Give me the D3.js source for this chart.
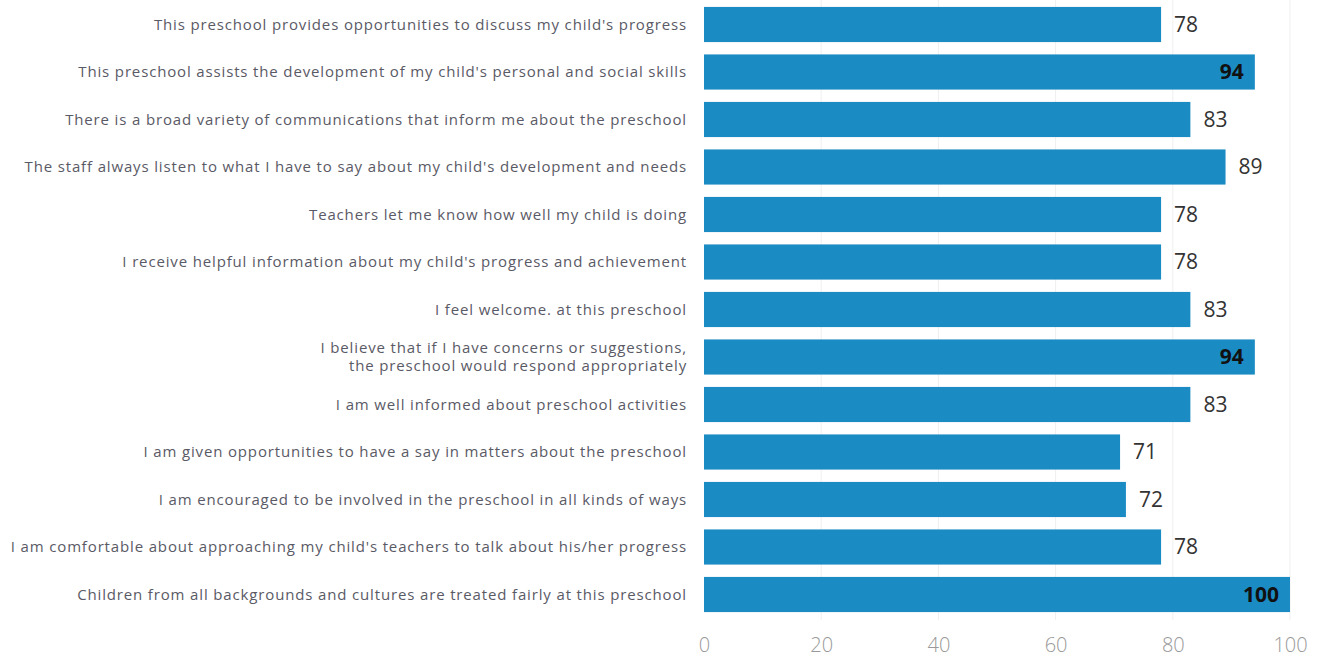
<!DOCTYPE html>
<html><head><meta charset="utf-8">
<script src="https://cdn.jsdelivr.net/npm/d3@7"></script>
<style>body{margin:0;background:#fff;}svg{display:block;}</style>
</head><body>
<svg id="chart" width="1328" height="659"></svg>
<script>
const categories = [
  "This preschool provides opportunities to discuss my child's progress",
  "This preschool assists the development of my child's personal and social skills",
  "There is a broad variety of communications that inform me about the preschool",
  "The staff always listen to what I have to say about my child's development and needs",
  "Teachers let me know how well my child is doing",
  "I receive helpful information about my child's progress and achievement",
  "I feel welcome. at this preschool",
  "I believe that if I have concerns or suggestions,\nthe preschool would respond appropriately",
  "I am well informed about preschool activities",
  "I am given opportunities to have a say in matters about the preschool",
  "I am encouraged to be involved in the preschool in all kinds of ways",
  "I am comfortable about approaching my child's teachers to talk about his/her progress",
  "Children from all backgrounds and cultures are treated fairly at this preschool"
];
const values = [78, 94, 83, 89, 78, 78, 83, 94, 83, 71, 72, 78, 100];
const xTicks = [0, 20, 40, 60, 80, 100];
const insideThreshold = 90;

const svg = d3.select("#chart");
const x = d3.scaleLinear().domain([0, 100]).range([704, 1290]);
const y = d3.scaleBand().domain(categories).range([0.75, 618.25]).paddingInner(0.26).paddingOuter(0.13);

// gridlines
svg.append("g").selectAll("line").data(xTicks.filter(d => d > 0)).join("line")
  .attr("x1", d => x(d)).attr("x2", d => x(d))
  .attr("y1", 0).attr("y2", 620)
  .attr("stroke", "#efefef").attr("stroke-width", 1);

// bars
svg.append("g").selectAll("rect").data(values).join("rect")
  .attr("x", x(0))
  .attr("y", (d, i) => y(categories[i]))
  .attr("width", d => x(d) - x(0))
  .attr("height", y.bandwidth())
  .attr("fill", "#1b8bc4");

// value labels
svg.append("g").selectAll("text").data(values).join("text")
  .attr("x", d => d >= insideThreshold ? x(d) - 11 : x(d) + 13)
  .attr("y", (d, i) => y(categories[i]) + y.bandwidth() / 2)
  .attr("dy", "0.35em")
  .attr("text-anchor", d => d >= insideThreshold ? "end" : "start")
  .attr("font-family", "Open Sans, sans-serif")
  .attr("font-size", 21)
  .attr("font-weight", d => d >= insideThreshold ? 700 : 400)
  .attr("fill", d => d >= insideThreshold ? "#111" : "#333")
  .text(d => d);

// category labels
const lab = svg.append("g").selectAll("text").data(categories).join("text")
  .attr("x", 687)
  .attr("y", d => y(d) + y.bandwidth() / 2)
  .attr("text-anchor", "end")
  .attr("font-family", "Open Sans, sans-serif")
  .attr("font-size", 15)
  .attr("letter-spacing", "0.85px")
  .attr("fill", "#5a5a66");
lab.each(function(d) {
  const lines = d.split("\n");
  const t = d3.select(this);
  lines.forEach((ln, j) => {
    t.append("tspan").attr("x", 687)
      .attr("dy", j === 0 ? ((0.35 - (lines.length - 1) * 0.6) + "em") : "1.2em")
      .text(ln);
  });
});

// x axis
const ax = svg.append("g").attr("transform", "translate(0,632)")
  .call(d3.axisBottom(x).tickValues(xTicks).tickSize(0).tickPadding(6));
ax.select(".domain").remove();
ax.selectAll("text").attr("font-family", "Open Sans, sans-serif").attr("font-size", 20).attr("font-weight", 300).attr("fill", "#999");
</script>
</body></html>
